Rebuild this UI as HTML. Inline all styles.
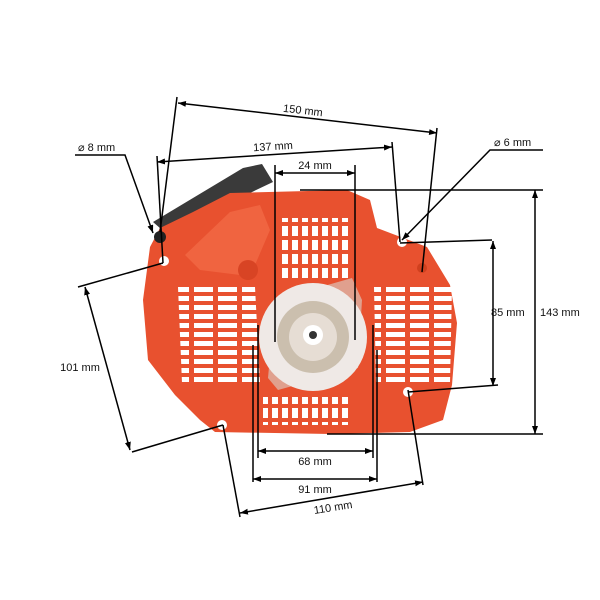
<!DOCTYPE html>
<html><head><meta charset="utf-8"><style>
html,body{margin:0;padding:0;background:#fff;}
svg{display:block;}
text{font-family:"Liberation Sans",sans-serif;font-size:11px;fill:#111;}
</style></head><body>
<svg width="600" height="600" viewBox="0 0 600 600" xmlns="http://www.w3.org/2000/svg">
<defs>
<marker id="a" markerWidth="8" markerHeight="6" refX="8" refY="3" orient="auto-start-reverse" markerUnits="userSpaceOnUse"><path d="M0,0 L8,3 L0,6 Z" fill="#000"/></marker>
<pattern id="gl" x="0" y="285" width="24" height="9" patternUnits="userSpaceOnUse"><rect x="2" y="2" width="19" height="5" fill="#fff"/></pattern>
<pattern id="gv" x="0" y="0" width="10" height="14" patternUnits="userSpaceOnUse"><rect x="2" y="2" width="6" height="10" fill="#fff"/></pattern>
</defs>
<!-- handle -->
<path d="M153,222 L243,168 L262,164 L273,182 L210,212 L168,235 Z" fill="#3a3a3a"/>
<!-- body -->
<path d="M150,247 L160,228 L193,212 L230,193 L347,190 L370,200 L377,228 L427,247 L450,285 L457,323 L452,385 L443,420 L410,432 L330,434 L215,432 L200,420 L175,395 L148,360 L143,300 Z" fill="#e8512f"/>
<path d="M185,255 L230,212 L260,205 L270,230 L255,265 L240,275 L200,270 Z" fill="#f06440"/>
<!-- grills -->
<path d="M178,287 L255,287 L260,383 L182,383 Z" fill="url(#gl)"/>
<path d="M374,287 L452,287 L450,383 L376,383 Z" fill="url(#gl)"/>
<rect x="280" y="218" width="68" height="60" fill="url(#gv)"/>
<rect x="263" y="397" width="86" height="28" fill="url(#gv)"/>
<!-- disc -->
<path d="M275,300 L352,278 L362,300 L358,368 L278,390 L268,378 Z" fill="#e0a08e"/>
<circle cx="313" cy="337" r="54" fill="#efe9e6"/>
<circle cx="313" cy="337" r="36" fill="#cbbfae"/>
<circle cx="313" cy="337" r="24" fill="#e6ddd4"/>
<circle cx="313" cy="335" r="10" fill="#fff"/>
<circle cx="313" cy="335" r="4" fill="#333"/>
<circle cx="248" cy="270" r="10" fill="#d84424"/>
<!-- holes -->
<circle cx="160" cy="237" r="6" fill="#222"/>
<circle cx="164" cy="261" r="5" fill="#fff"/>
<circle cx="402" cy="242" r="5" fill="#fff"/>
<circle cx="422" cy="268" r="5" fill="#d0401e"/>
<circle cx="408" cy="392" r="5" fill="#fff"/>
<circle cx="222" cy="425" r="5" fill="#fff"/>
<g stroke="#000" stroke-width="1.5" fill="none">
<line x1="178" y1="103" x2="437" y2="133" marker-start="url(#a)" marker-end="url(#a)"/>
<line x1="177" y1="97" x2="160" y2="232"/>
<line x1="437" y1="128" x2="422" y2="272"/>
<line x1="157" y1="162" x2="392" y2="147" marker-start="url(#a)" marker-end="url(#a)"/>
<line x1="157" y1="156" x2="163" y2="263"/>
<line x1="392" y1="142" x2="400" y2="242"/>
<polyline points="75,155 125,155 153,233" marker-end="url(#a)"/>
<polyline points="543,150 490,150 402,240" marker-end="url(#a)"/>
<line x1="275" y1="173" x2="355" y2="173" marker-start="url(#a)" marker-end="url(#a)"/>
<line x1="275" y1="165" x2="275" y2="342"/>
<line x1="355" y1="165" x2="355" y2="340"/>
<line x1="300" y1="190" x2="543" y2="190"/>
<line x1="327" y1="434" x2="543" y2="434"/>
<line x1="535" y1="190" x2="535" y2="434" marker-start="url(#a)" marker-end="url(#a)"/>
<line x1="400" y1="243" x2="492" y2="240"/>
<line x1="408" y1="392" x2="498" y2="385"/>
<line x1="493" y1="241" x2="493" y2="386" marker-start="url(#a)" marker-end="url(#a)"/>
<line x1="78" y1="287" x2="163" y2="263"/>
<line x1="132" y1="452" x2="223" y2="425"/>
<line x1="85" y1="287" x2="130" y2="450" marker-start="url(#a)" marker-end="url(#a)"/>
<line x1="258" y1="325" x2="258" y2="458"/>
<line x1="373" y1="325" x2="373" y2="458"/>
<line x1="258" y1="451" x2="373" y2="451" marker-start="url(#a)" marker-end="url(#a)"/>
<line x1="253" y1="345" x2="253" y2="482"/>
<line x1="377" y1="350" x2="377" y2="482"/>
<line x1="253" y1="479" x2="377" y2="479" marker-start="url(#a)" marker-end="url(#a)"/>
<line x1="223" y1="425" x2="240" y2="517"/>
<line x1="408" y1="390" x2="423" y2="485"/>
<line x1="240" y1="513" x2="423" y2="482" marker-start="url(#a)" marker-end="url(#a)"/>
</g>
<text x="303" y="114" text-anchor="middle" transform="rotate(6.6 303 110)">150 mm</text>
<text x="273" y="150" text-anchor="middle" transform="rotate(-3.5 273 146)">137 mm</text>
<text x="315" y="169" text-anchor="middle">24 mm</text>
<text x="78" y="151">⌀ 8 mm</text>
<text x="494" y="146">⌀ 6 mm</text>
<text x="491" y="316">85 mm</text>
<text x="540" y="316">143 mm</text>
<text x="80" y="371" text-anchor="middle">101 mm</text>
<text x="315" y="465" text-anchor="middle">68 mm</text>
<text x="315" y="493" text-anchor="middle">91 mm</text>
<text x="333" y="511" text-anchor="middle" transform="rotate(-9 333 507)">110 mm</text>
</svg>
</body></html>
